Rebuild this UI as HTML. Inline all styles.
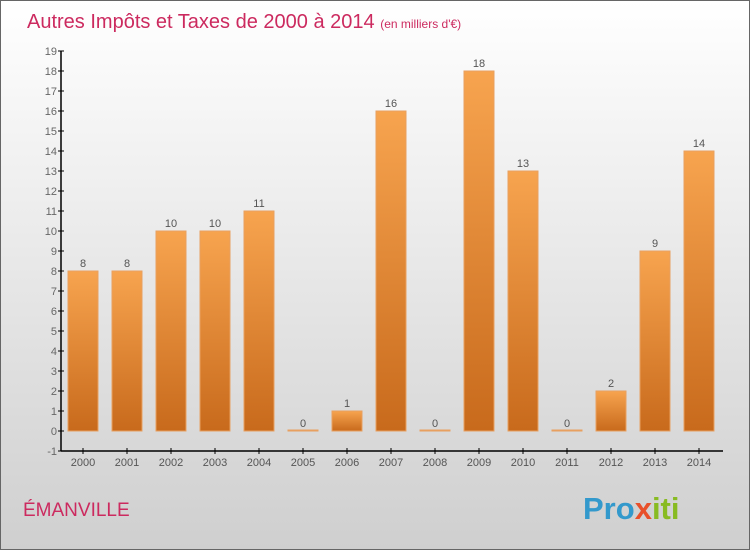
<!DOCTYPE html>
<html><head><meta charset="utf-8"><style>
body{margin:0}
#c{width:748px;height:548px;border:1px solid #666;background:linear-gradient(#fff,#cfcfcf);position:relative;overflow:hidden;font-family:"Liberation Sans",sans-serif}
</style></head><body>
<div id="c">
<svg width="748" height="548">
<defs><linearGradient id="bg" x1="0" y1="0" x2="0" y2="1"><stop offset="0" stop-color="#f7a44f"/><stop offset="1" stop-color="#c86a1c"/></linearGradient></defs>
<text x="26" y="27" font-size="20" fill="#cc2a5f">Autres Impôts et Taxes de 2000 à 2014 <tspan font-size="12">(en milliers d'€)</tspan></text>
<g id="y"></g>
<g id="bars"></g>
<g id="x"></g>
<text x="22" y="515" font-size="19" fill="#cc2a5f">ÉMANVILLE</text>
<text x="582" y="518" font-size="31" font-weight="bold" fill="#3399cc">Pro<tspan fill="#e8502a">x</tspan><tspan fill="#88bb22">iti</tspan></text>
</svg></div>
<script>
const years=["2000","2001","2002","2003","2004","2005","2006","2007","2008","2009","2010","2011","2012","2013","2014"];
const values=[8,8,10,10,11,0,1,16,0,18,13,0,2,9,14];
const yTicks=[-1,0,1,2,3,4,5,6,7,8,9,10,11,12,13,14,15,16,17,18,19];
const NS="http://www.w3.org/2000/svg";
function yS(v){return 430-v*20;}
function xS(i){return 82+i*44;}
function mk(t,a,p,txt){const e=document.createElementNS(NS,t);for(const k in a)e.setAttribute(k,a[k]);if(txt!==undefined)e.textContent=txt;p.appendChild(e);return e;}
const Y=document.getElementById('y'),X=document.getElementById('x'),B=document.getElementById('bars');
mk('line',{x1:60,y1:yS(19),x2:60,y2:450,stroke:'#000','stroke-width':1.5},Y);
mk('line',{x1:60,y1:450,x2:722,y2:450,stroke:'#000','stroke-width':1.5},X);
yTicks.forEach(v=>{
 const l=mk('line',{x1:57,y1:yS(v),x2:63,y2:yS(v),stroke:'#000'},Y);
 
 
 const t=mk('text',{x:56,y:yS(v)+4,'font-size':11,fill:'#666','text-anchor':'end'},Y,v);
 
 
});
years.forEach((yr,i)=>{
 const cx=xS(i),v=values[i];
 const l=mk('line',{x1:cx,y1:447,x2:cx,y2:453,stroke:'#000'},X);
 
 
 const t=mk('text',{x:cx,y:465,'font-size':11,fill:'#555','text-anchor':'middle'},X,yr);
 
 
 const h=Math.max(v*20,1);
 const r=mk('rect',{x:cx-15,y:yS(v)-(v===0?1:0),width:30,height:h,fill:'url(#bg)',stroke:'#e8a060','stroke-width':1},B);
 
 
 const vl=mk('text',{x:cx,y:yS(v)-4,'font-size':11,fill:'#555','text-anchor':'middle'},B,v);
 
 
});
</script>
</body></html>
